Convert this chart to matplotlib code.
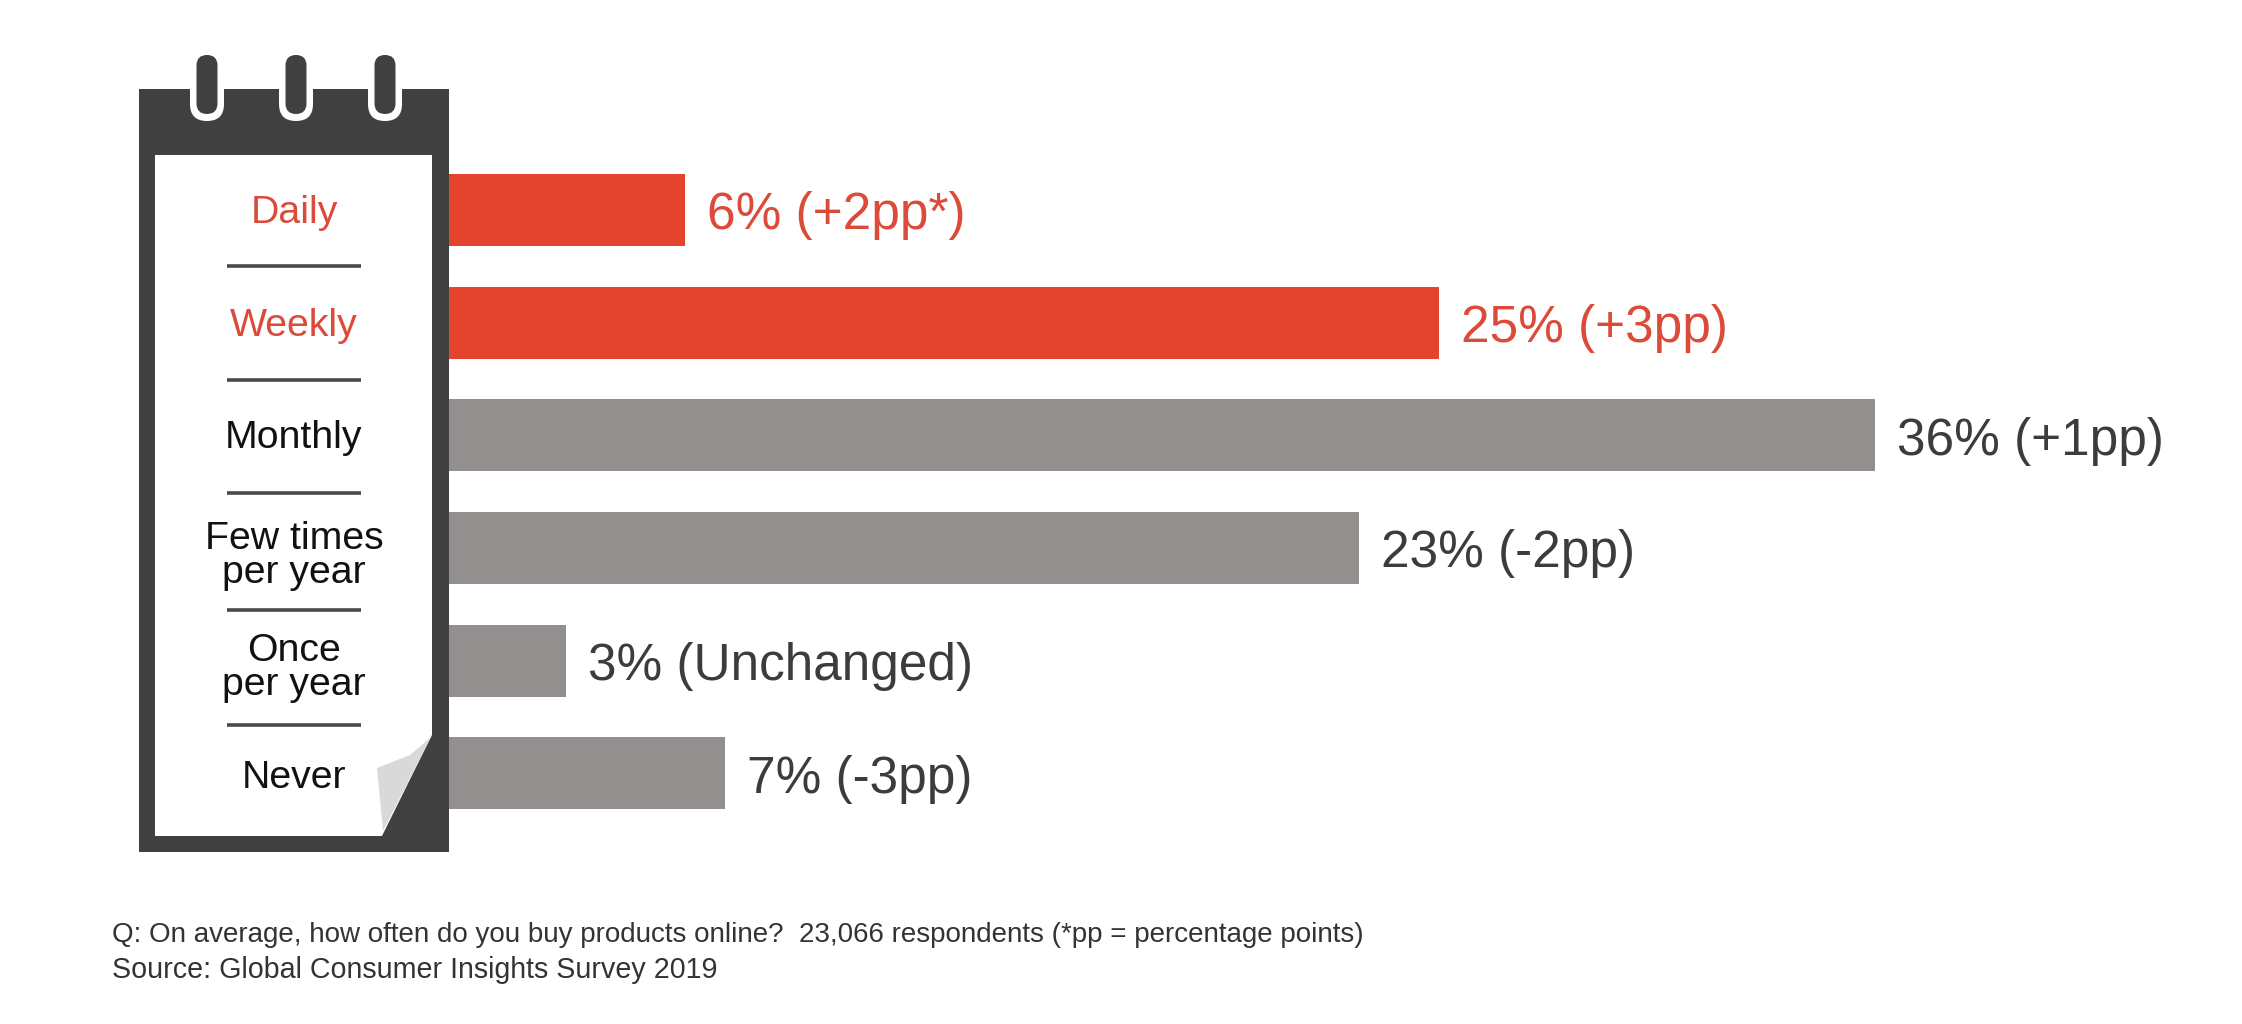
"""Online purchase frequency chart, notebook graphic on the left with bars on the right."""
import matplotlib

matplotlib.use("Agg")
import matplotlib.pyplot as plt  # noqa: E402
from matplotlib.patches import FancyBboxPatch, Polygon, Rectangle  # noqa: E402

W, H = 2242, 1024
RED = "#e4432d"
RED_TEXT = "#dc4a3a"
GREY = "#938f8e"
DARK = "#404040"
TEXT = "#3c3c3c"

plt.rcParams["font.family"] = ["Liberation Sans", "DejaVu Sans"]

categories = ["Daily", "Weekly", "Monthly", "Few times\nper year", "Once\nper year", "Never"]
shares = [6, 25, 36, 23, 3, 7]
changes = ["(+2pp*)", "(+3pp)", "(+1pp)", "(-2pp)", "(Unchanged)", "(-3pp)"]
highlighted = ["Daily", "Weekly"]
footnotes = [
    "Q: On average, how often do you buy products online?  23,066 respondents (*pp = percentage points)",
    "Source: Global Consumer Insights Survey 2019",
]

# notebook layout in pixels
LABEL_Y = [213, 326, 438, 556, 668, 778]
DIVIDER_Y = [266, 380, 493, 610, 725]
RING_X = [207, 296, 385]

fig = plt.figure(figsize=(W / 100, H / 100), dpi=100, facecolor="white")

# pixel-space layer for the notebook drawing
bg = fig.add_axes([0, 0, 1, 1])
bg.set_xlim(0, W)
bg.set_ylim(H, 0)
bg.set_axis_off()

bg.add_patch(Rectangle((139, 89), 310, 763, color=DARK, lw=0))
bg.add_patch(Rectangle((155, 155), 277, 681, color="white", lw=0))

# page corner curl
bg.add_patch(Polygon([(382, 836), (432, 735), (432, 836)], color=DARK, lw=0))
bg.add_patch(Polygon([(383, 831), (431, 737), (410, 755), (377, 768)], color="#d9d9d9", lw=0))

for ring_x in RING_X:
    bg.add_patch(FancyBboxPatch((ring_x - 17, 60), 34, 61, boxstyle="round,pad=0,rounding_size=17",
                                fc="white", lw=0))
    bg.add_patch(FancyBboxPatch((ring_x - 10.5, 55), 21, 59, boxstyle="round,pad=0,rounding_size=10.5",
                                fc=DARK, lw=0))

# bars: about 39.7 px per percentage point, the start is hidden behind the notebook edge
ax = fig.add_axes([449 / W, 1 - 829.7 / H, (W - 449) / W, 676.1 / H])
ax.patch.set_alpha(0)
rows = list(range(len(categories)))
colors = [RED if c in highlighted else GREY for c in categories]
ax.barh(rows, shares, height=0.639, color=colors)
ax.set_xlim(0.05, 45.25)
ax.set_ylim(5.5, -0.5)
ax.set_axis_off()
for row, share, change in zip(rows, shares, changes):
    ax.annotate(f"{share}% {change}", (share, row), xytext=(22, -6), textcoords="offset pixels",
                va="center", fontsize=37, color=RED_TEXT if row < 2 else TEXT)

# labels on the notebook page
for label, y in zip(categories, LABEL_Y):
    bg.text(294, y, label, ha="center", va="center", fontsize=28.3, linespacing=0.92,
            color=RED_TEXT if label in highlighted else "#111111")
for y in DIVIDER_Y:
    bg.plot([227, 361], [y, y], color="#4a4a4a", lw=2.6, solid_capstyle="butt")

for y, note, size in zip([935, 970], footnotes, [19.95, 20.6]):
    bg.text(112, y, note, va="center", fontsize=size, color="#333333")

fig.savefig("out.png", dpi=100)
plt.close(fig)
